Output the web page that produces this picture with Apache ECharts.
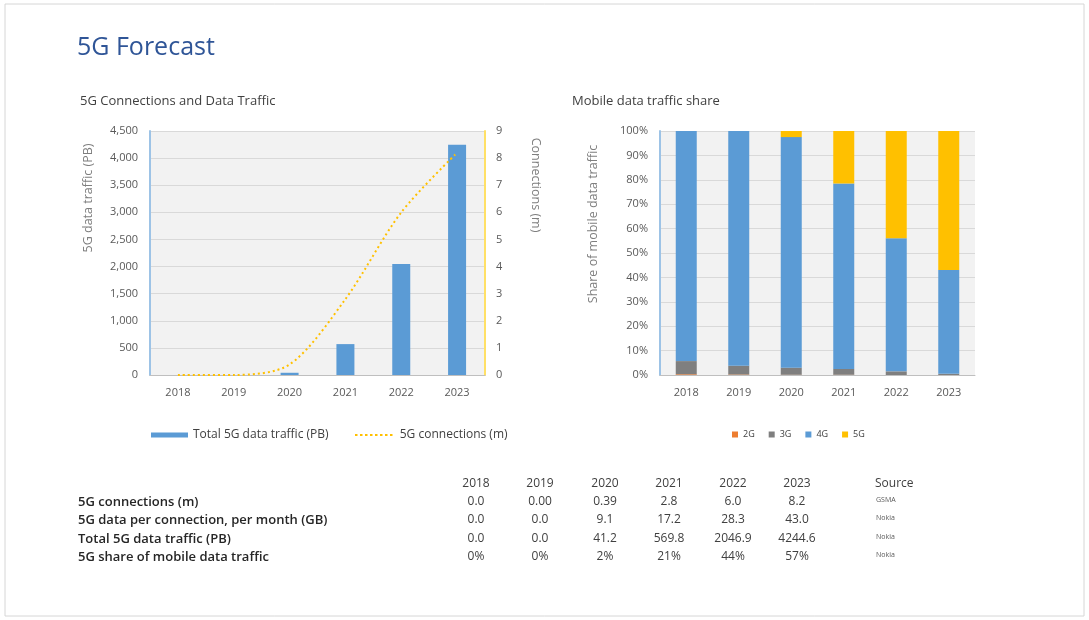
<!DOCTYPE html>
<html><head><meta charset="utf-8">
<script src="https://cdn.jsdelivr.net/npm/echarts@6/dist/echarts.min.js"></script>
<style>html,body{margin:0;padding:0;background:#fff}#c{width:1089px;height:620px}</style>
</head><body><div id="c"></div>
<script>
const years = ['2018','2019','2020','2021','2022','2023'];
const traffic5G = [0, 0, 41.2, 569.8, 2046.9, 4244.6];
const connections5G = [0, 0, 0.39, 2.8, 6.0, 8.2];
const share2G = [0.3, 0.2, 0.1, 0.1, 0, 0];
const share3G = [5.4, 3.6, 2.9, 2.4, 1.5, 0.5];
const share4G = [94.3, 96.2, 94.5, 76.0, 54.5, 42.5];
const share5G = [0, 0, 2.5, 21.5, 44.0, 57.0];
const tableYears = ['2018','2019','2020','2021','2022','2023'];
const tableLabels = ['5G connections (m)','5G data per connection, per month (GB)','Total 5G data traffic (PB)','5G share of mobile data traffic'];
const rowConnections = ['0.0','0.00','0.39','2.8','6.0','8.2'];
const rowPerConn = ['0.0','0.0','9.1','17.2','28.3','43.0'];
const rowTotal = ['0.0','0.0','41.2','569.8','2046.9','4244.6'];
const rowShare = ['0%','0%','2%','21%','44%','57%'];
const sources = ['GSMA','Nokia','Nokia','Nokia'];

const FONT = 'Open Sans';
const F = (s, w) => (w ? w + ' ' : '') + s + 'px "' + FONT + '"';
const chart = echarts.init(document.getElementById('c'));
const colX = [476, 540, 605, 669, 733, 797];
const rowY = [502, 520, 539, 557];
const rows = [rowConnections, rowPerConn, rowTotal, rowShare];
const graphics = [
  {type:'rect', shape:{x:5,y:4,width:1079,height:612}, style:{fill:'none', stroke:'#d6d6d6', lineWidth:1}, silent:true},
  {type:'text', x:77, y:48, style:{text:'5G Forecast', fill:'#2f5597', font:F(25), verticalAlign:'middle'}},
  {type:'text', x:80, y:101, style:{text:'5G Connections and Data Traffic', fill:'#404040', font:F(13), verticalAlign:'middle'}},
  {type:'text', x:572, y:101, style:{text:'Mobile data traffic share', fill:'#404040', font:F(13), verticalAlign:'middle'}},
  {type:'text', x:88, y:198, rotation:Math.PI/2, style:{text:'5G data traffic (PB)', fill:'#7f7f7f', font:F(12.5), align:'center', verticalAlign:'middle'}},
  {type:'text', x:536, y:185, rotation:-Math.PI/2, style:{text:'Connections (m)', fill:'#7f7f7f', font:F(12.5), align:'center', verticalAlign:'middle'}},
  {type:'text', x:593, y:224, rotation:Math.PI/2, style:{text:'Share of mobile data traffic', fill:'#7f7f7f', font:F(12.5), align:'center', verticalAlign:'middle'}},
  {type:'text', x:875, y:484, style:{text:'Source', fill:'#404040', font:F(12), verticalAlign:'middle'}}
];
tableYears.forEach((y,i)=>graphics.push({type:'text', x:colX[i], y:484, style:{text:y, fill:'#404040', font:F(12), align:'center', verticalAlign:'middle'}}));
tableLabels.forEach((l,r)=>{
  graphics.push({type:'text', x:78, y:rowY[r], style:{text:l, fill:'#262626', font:F(13,600), verticalAlign:'middle'}});
  rows[r].forEach((v,i)=>graphics.push({type:'text', x:colX[i], y:rowY[r], style:{text:v, fill:'#404040', font:F(12), align:'center', verticalAlign:'middle'}}));
  graphics.push({type:'text', x:876, y:rowY[r]-2, style:{text:sources[r], fill:'#595959', font:F(7), verticalAlign:'middle'}});
});

const dotted = 'path://' + Array.from({length:8}, (_, k) => 'M' + (k*5) + ',0h2.5v2h-2.5z').join(' ');
const axisLbl = {color:'#595959', fontSize:11, fontFamily:FONT};
const legText = {color:'#404040', fontSize:12, fontFamily:FONT};
chart.setOption({
  animation:false,
  textStyle:{fontFamily:FONT},
  graphic:graphics,
  legend:[
    {left:146, top:424, itemWidth:37, itemHeight:5, textStyle:legText,
     data:[{name:'Total 5G data traffic (PB)', icon:'rect'}]},
    {left:350, top:424, itemWidth:42, itemHeight:2, textStyle:legText,
     data:[{name:'5G connections (m)', icon:dotted}]},
    {left:727, top:425, itemGap:14, itemWidth:6, itemHeight:6, textStyle:{color:'#404040', fontSize:9, fontFamily:FONT},
     data:[{name:'2G', icon:'rect'},{name:'3G', icon:'rect'},{name:'4G', icon:'rect'},{name:'5G', icon:'rect'}]}
  ],
  grid:[
    {left:150, top:131, width:335, height:244, show:true, backgroundColor:'#f2f2f2', borderWidth:0},
    {left:660, top:131, width:315, height:244, show:true, backgroundColor:'#f2f2f2', borderWidth:0}
  ],
  xAxis:[
    {type:'category', gridIndex:0, data:years, axisTick:{show:false}, axisLine:{lineStyle:{color:'#bfbfbf'}}, axisLabel:Object.assign({margin:12}, axisLbl)},
    {type:'category', gridIndex:1, data:years, axisTick:{show:false}, axisLine:{lineStyle:{color:'#bfbfbf'}}, axisLabel:Object.assign({margin:12}, axisLbl)}
  ],
  yAxis:[
    {type:'value', gridIndex:0, min:0, max:4500, interval:500,
     axisLine:{show:true, lineStyle:{color:'#9dc3e6', width:2}}, axisTick:{show:false},
     splitLine:{lineStyle:{color:'#d9d9d9'}},
     axisLabel:Object.assign({margin:12, formatter:v=>v.toLocaleString('en-US')}, axisLbl)},
    {type:'value', gridIndex:0, position:'right', min:0, max:9, interval:1,
     axisLine:{show:true, lineStyle:{color:'#ffe066', width:2}}, axisTick:{show:false}, splitLine:{show:false},
     axisLabel:Object.assign({margin:11}, axisLbl)},
    {type:'value', gridIndex:1, min:0, max:100, interval:10,
     axisLine:{show:true, lineStyle:{color:'#9dc3e6', width:2}}, axisTick:{show:false},
     splitLine:{lineStyle:{color:'#d9d9d9'}},
     axisLabel:Object.assign({margin:12, formatter:'{value}%'}, axisLbl)}
  ],
  series:[
    {name:'Total 5G data traffic (PB)', type:'bar', xAxisIndex:0, yAxisIndex:0, data:traffic5G, barWidth:18, itemStyle:{color:'#5b9bd5'}},
    {name:'5G connections (m)', type:'line', xAxisIndex:0, yAxisIndex:1, data:connections5G, smooth:0.3, showSymbol:false, symbol:'none',
     lineStyle:{color:'#ffc000', width:2, type:[2,3]}, itemStyle:{color:'#ffc000'}},
    {name:'2G', type:'bar', stack:'s', xAxisIndex:1, yAxisIndex:2, data:share2G, barWidth:21, itemStyle:{color:'#ed7d31'}},
    {name:'3G', type:'bar', stack:'s', xAxisIndex:1, yAxisIndex:2, data:share3G, barWidth:21, itemStyle:{color:'#7f7f7f'}},
    {name:'4G', type:'bar', stack:'s', xAxisIndex:1, yAxisIndex:2, data:share4G, barWidth:21, itemStyle:{color:'#5b9bd5'}},
    {name:'5G', type:'bar', stack:'s', xAxisIndex:1, yAxisIndex:2, data:share5G, barWidth:21, itemStyle:{color:'#ffc000'}}
  ]
});
</script></body></html>
